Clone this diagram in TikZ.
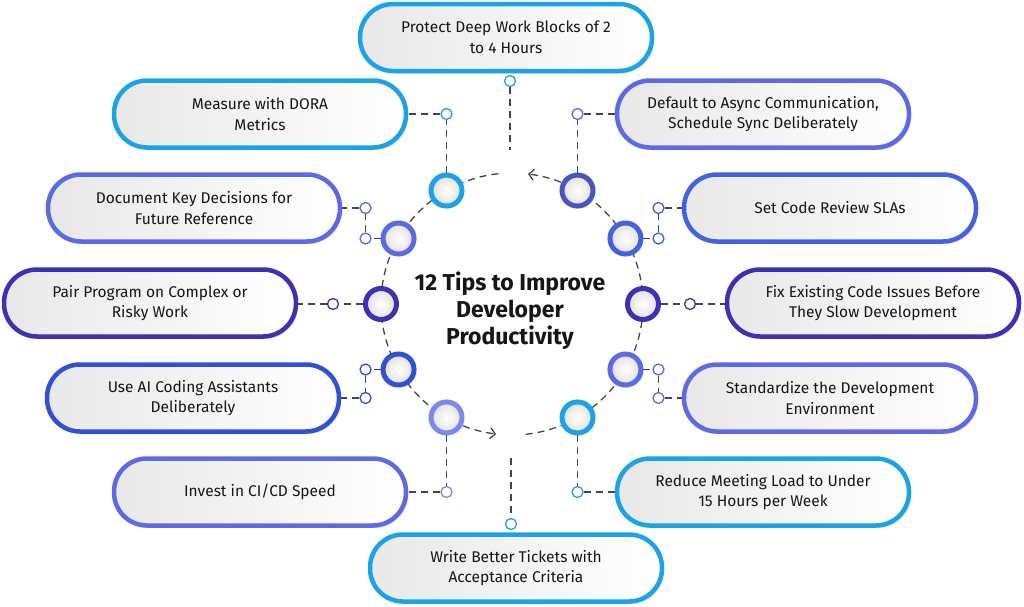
\documentclass[tikz,border=0pt]{standalone}
\usepackage{fontspec}
\setmainfont{Fira Sans}
\usetikzlibrary{arrows.meta,calc,shadows}
\definecolor{tipcyan}{RGB}{27,163,234}
\definecolor{tipslate}{RGB}{74,84,190}
\definecolor{tipperi}{RGB}{92,106,232}
\definecolor{tipblue}{RGB}{66,98,226}
\definecolor{tipindigo}{RGB}{62,48,180}
\definecolor{tiproyal}{RGB}{48,80,216}
\definecolor{tiplav}{RGB}{125,135,238}
\definecolor{tipink}{RGB}{22,22,22}
\definecolor{tipdash}{RGB}{70,70,70}

\begin{document}
\begin{tikzpicture}[
  x=1pt,
  y=1pt,
  pill/.style={draw=#1,line width=4.5pt,rounded corners=33pt,
    minimum width=292pt,minimum height=67pt,align=center,
    left color=black!9,right color=white,text=tipink,
    font=\fontsize{15.5}{20.5}\selectfont,
    drop shadow={shadow xshift=2pt,shadow yshift=-2.5pt,opacity=0.22}},
  ring/.style={circle,draw=#1,line width=5pt,minimum size=31pt,
    inner sep=0pt,inner color=white,outer color=black!12},
  joint/.style={circle,draw=#1,line width=1.3pt,fill=white,
    minimum size=11pt,inner sep=0pt},
  wire/.style={tipdash,line width=1.3pt,dash pattern=on 7pt off 5pt}
]
  \useasboundingbox (0,0) rectangle (1024,-606);
  \coordinate (ctr) at (512,-304);

  % Dashed ring with the two arrows.
  \draw[wire,-{Straight Barb[length=5pt,width=11pt]}]
    ($(ctr)+(96:131)$) arc[start angle=96,end angle=263,radius=131pt];
  \draw[wire,-{Straight Barb[length=5pt,width=11pt]}]
    ($(ctr)+(-84:131)$) arc[start angle=-84,end angle=83,radius=131pt];

  % Tip boxes.
  \node[pill=tipcyan] (bTop) at (506,-37.5)
    {Protect Deep Work Blocks of 2\\to 4 Hours};
  \node[pill=tipcyan] (bDora) at (260,-114)
    {Measure with DORA\\Metrics};
  \node[pill=tipperi] (bAsync) at (763,-114)
    {Default to Async Communication,\\Schedule Sync Deliberately};
  \node[pill=tipperi] (bDoc) at (194,-208)
    {Document Key Decisions for\\Future Reference};
  \node[pill=tipblue] (bSla) at (830,-208)
    {Set Code Review SLAs};
  \node[pill=tipindigo] (bPair) at (150,-303)
    {Pair Program on Complex or\\Risky Work};
  \node[pill=tipindigo] (bFix) at (873,-303)
    {Fix Existing Code Issues Before\\They Slow Development};
  \node[pill=tiproyal] (bAi) at (193,-398)
    {Use AI Coding Assistants\\Deliberately};
  \node[pill=tipperi] (bEnv) at (830,-398)
    {Standardize the Development\\Environment};
  \node[pill=tipperi] (bCicd) at (260,-492)
    {Invest in CI/CD Speed};
  \node[pill=tipcyan] (bMeet) at (763,-492)
    {Reduce Meeting Load to Under\\15 Hours per Week};
  \node[pill=tipcyan] (bTicket) at (516,-568)
    {Write Better Tickets with\\Acceptance Criteria};

  % Circles on the ring.
  \foreach \a/\c in {0/tipindigo,30/tipblue,60/tipslate,120/tipcyan,
    150/tipperi,180/tipindigo,210/tiproyal,240/tiplav,300/tipcyan,
    330/tipperi}
    \node[ring=\c] (r\a) at ($(ctr)+(\a:131)$) {};

  % Small joints.
  \node[joint=tipcyan] (dTop) at (510,-81) {};
  \node[joint=tipcyan] (dBot) at (511,-524) {};
  \node[joint=tipcyan] (d120) at (r120 |- bDora) {};
  \node[joint=tipperi] (d60) at (r60 |- bAsync) {};
  \node[joint=tipperi] (d150a) at ($(r150)+(-33,0)$) {};
  \node[joint=tipperi] (d150b) at (d150a |- bDoc) {};
  \node[joint=tipblue] (d30a) at ($(r30)+(33,0)$) {};
  \node[joint=tipblue] (d30b) at (d30a |- bSla) {};
  \node[joint=tipindigo] (d180) at ($(r180)+(-48,0)$) {};
  \node[joint=tipindigo] (d0) at ($(r0)+(47,0)$) {};
  \node[joint=tiproyal] (d210a) at ($(r210)+(-33,0)$) {};
  \node[joint=tiproyal] (d210b) at (d210a |- bAi) {};
  \node[joint=tipperi] (d330a) at ($(r330)+(33,0)$) {};
  \node[joint=tipperi] (d330b) at (d330a |- bEnv) {};
  \node[joint=tiplav] (d240) at (r240 |- bCicd) {};
  \node[joint=tipcyan] (d300) at (r300 |- bMeet) {};
  \coordinate (tTop) at (510,-150);
  \coordinate (tBot) at (511,-458);

  % Connectors.
  \draw[wire] (dTop) -- (tTop);
  \draw[wire] (tBot) -- (dBot);
  \draw[wire] (r120) -- (d120) -- (d120 -| bDora.east);
  \draw[wire] (r60) -- (d60) -- (d60 -| bAsync.west);
  \draw[wire] (r150) -- (d150a) -- (d150b) -- (d150b -| bDoc.east);
  \draw[wire] (r30) -- (d30a) -- (d30b) -- (d30b -| bSla.west);
  \draw[wire] (r180) -- (d180) -- (d180 -| bPair.east);
  \draw[wire] (r0) -- (d0) -- (d0 -| bFix.west);
  \draw[wire] (r210) -- (d210a) -- (d210b) -- (d210b -| bAi.east);
  \draw[wire] (r330) -- (d330a) -- (d330b) -- (d330b -| bEnv.west);
  \draw[wire] (r240) -- (d240) -- (d240 -| bCicd.east);
  \draw[wire] (r300) -- (d300) -- (d300 -| bMeet.west);

  % Title.
  \node[font=\bfseries\fontsize{23}{27}\selectfont,align=center,
    text=tipink] (title) at (510,-311)
    {12 Tips to Improve\\Developer\\Productivity};
\end{tikzpicture}
\end{document}
